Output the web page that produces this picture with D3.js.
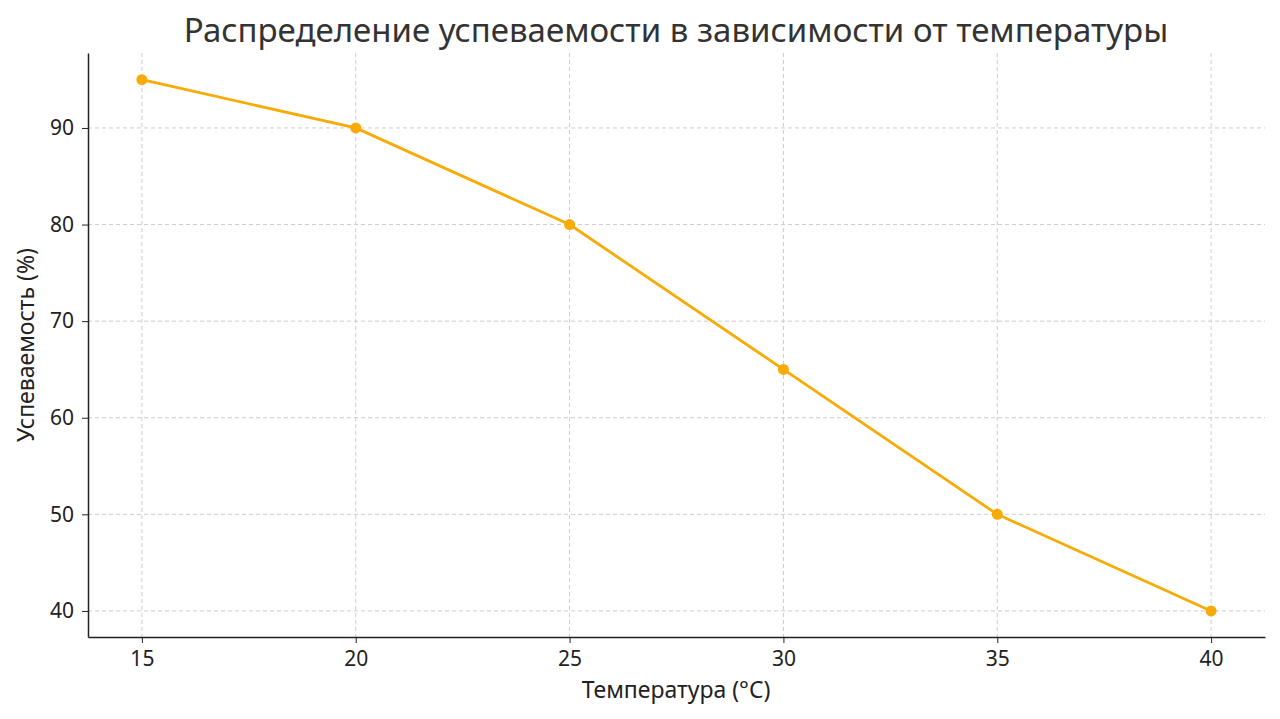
<!DOCTYPE html>
<html><head><meta charset="utf-8">
<script src="https://cdn.jsdelivr.net/npm/d3@7"></script>
<style>body{margin:0;background:#fff}svg{font-family:"Noto Sans",sans-serif}</style>
</head><body>
<svg id="c" width="1280" height="719"></svg>
<script>
const temps=[15,20,25,30,35,40];
const perf=[95,90,80,65,50,40];
const yTicks=[40,50,60,70,80,90];
const title="Распределение успеваемости в зависимости от температуры";
const xLabel="Температура (°C)";
const yLabel="Успеваемость (%)";
const svg=d3.select("#c");
const L=88,R=1265,T=53,B=637;
const x=d3.scaleLinear().domain([13.74,41.26]).range([L,R]);
const y=d3.scaleLinear().domain([37.3,97.76]).range([B,T]);
const g=svg.append("g");
g.selectAll(".vg").data(temps).join("line").attr("x1",d=>x(d)).attr("x2",d=>x(d)).attr("y1",T).attr("y2",B)
 .attr("stroke","#ccc").attr("stroke-dasharray","4,3").attr("stroke-width",1);
g.selectAll(".hg").data(yTicks).join("line").attr("y1",d=>y(d)).attr("y2",d=>y(d)).attr("x1",L).attr("x2",R)
 .attr("stroke","#ccc").attr("stroke-dasharray","4,3").attr("stroke-width",1);
const xa=svg.append("g").attr("transform",`translate(0,${B})`).call(d3.axisBottom(x).tickValues(temps).tickSize(6).tickSizeOuter(0).tickPadding(8));
const ya=svg.append("g").attr("transform",`translate(${L},0)`).call(d3.axisLeft(y).tickValues(yTicks).tickSize(6).tickSizeOuter(0).tickPadding(8));
[xa,ya].forEach(a=>{a.attr("font-size",null).attr("font-family",null);
 a.select(".domain").attr("stroke","#222").attr("stroke-width",1.5);
 a.selectAll("text").style("font-size","21px").style("font-family","Noto Sans").attr("fill","#222");
 a.selectAll(".tick line").attr("stroke","#222");});
const line=d3.line().x((d,i)=>x(temps[i])).y(d=>y(d));
svg.append("path").datum(perf).attr("d",line).attr("fill","none").attr("stroke","#f8ab06").attr("stroke-width",2.8);
svg.selectAll(".pt").data(perf).join("circle").attr("cx",(d,i)=>x(temps[i])).attr("cy",d=>y(d)).attr("r",5.5).attr("fill","#f8ab06");
svg.append("text").attr("x",676).attr("y",42).attr("text-anchor","middle").style("font-size","33px").attr("fill","#333").text(title);
svg.append("text").attr("x",676).attr("y",698).attr("text-anchor","middle").style("font-size","23px").attr("fill","#222").text(xLabel);
svg.append("text").attr("transform","translate(34,345) rotate(-90)").attr("text-anchor","middle").style("font-size","23px").attr("fill","#222").text(yLabel);
</script></body></html>
